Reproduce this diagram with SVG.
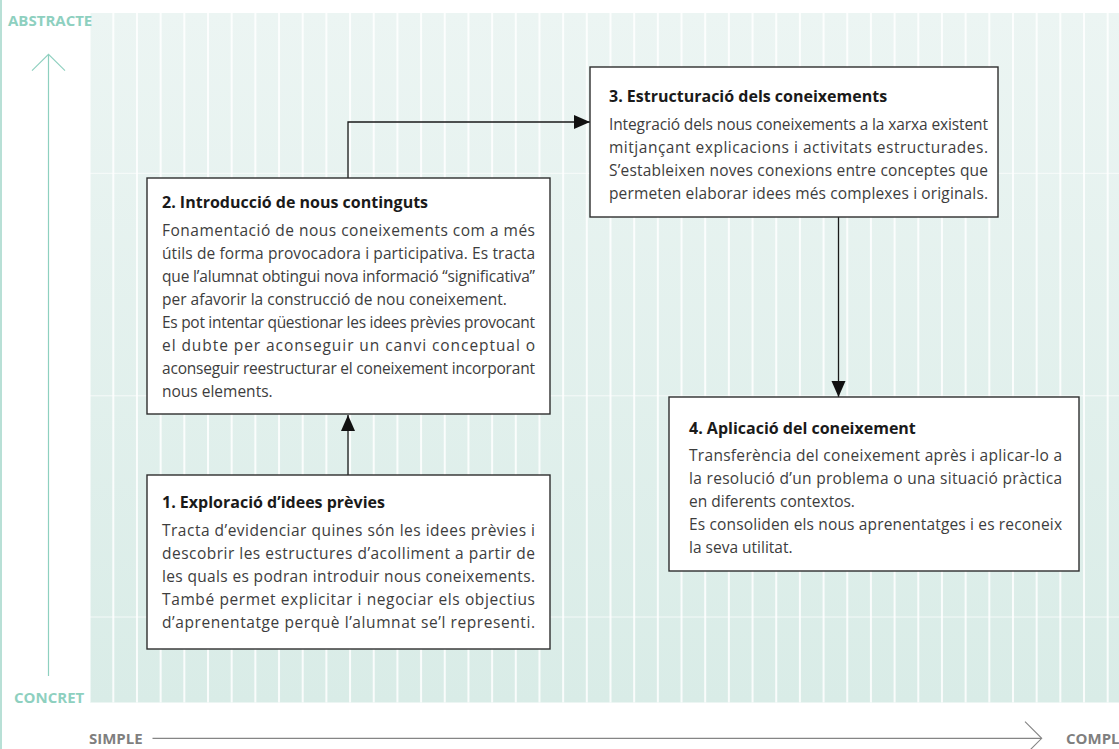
<svg xmlns="http://www.w3.org/2000/svg" width="1119" height="749" viewBox="0 0 1119 749">
<defs>
<linearGradient id="bg" x1="0" y1="0" x2="0" y2="1">
<stop offset="0" stop-color="#ecf5f3"/>
<stop offset="1" stop-color="#d9ece7"/>
</linearGradient>
<pattern id="cols" x="113.3" y="0" width="23.676" height="749" patternUnits="userSpaceOnUse">
<rect x="-1" y="0" width="2" height="749" fill="#ffffff" fill-opacity="0.85"/>
<rect x="22.676" y="0" width="2" height="749" fill="#ffffff" fill-opacity="0.85"/>
</pattern>
<marker id="ah" markerUnits="userSpaceOnUse" markerWidth="17" markerHeight="15" refX="16" refY="7" orient="auto">
<path d="M0,0 L16,7 L0,14 z" fill="#111"/>
</marker>
</defs>
<style>
.ax{font-family:"Open Sans","Noto Sans",sans-serif;font-weight:bold;font-size:15px}
.teal{fill:#8ed0bf}
.grey{fill:#7f7f7f}
.box{fill:#ffffff;stroke:#2e2e2e;stroke-width:1.4}
.ttl{font-family:"Open Sans","Noto Sans",sans-serif;font-weight:bold;font-size:16px;fill:#1a1a1a}
.txt{font-family:"Open Sans","Noto Sans",sans-serif;font-size:15.5px;fill:#3d3d3d}
.con{fill:none;stroke:#1a1a1a;stroke-width:1.3}
</style>
<rect x="0" y="0" width="1119" height="749" fill="#ffffff"/>
<line x1="1" y1="0" x2="1" y2="749" stroke="#b8e0d6" stroke-width="2"/>
<g id="background">
<rect x="90" y="13" width="1029" height="689.5" fill="url(#bg)"/>
<rect x="90" y="13" width="1029" height="689.5" fill="url(#cols)"/>
<line x1="90" y1="173.3" x2="1119" y2="173.3" stroke="#ffffff" stroke-opacity="0.7" stroke-width="1"/>
<line x1="90" y1="395.8" x2="1119" y2="395.8" stroke="#ffffff" stroke-opacity="0.7" stroke-width="1"/>
<line x1="90" y1="617" x2="1119" y2="617" stroke="#ffffff" stroke-opacity="0.7" stroke-width="1"/>
</g>
<g id="axes">
<text class="ax teal" x="8" y="25.5">ABSTRACTE</text>
<text class="ax teal" x="14" y="702.5">CONCRET</text>
<line x1="48.5" y1="55" x2="48.5" y2="676" stroke="#8ed0bf" stroke-width="1.2"/>
<polyline points="32,70.7 48.5,54.3 65,70.7" fill="none" stroke="#8ed0bf" stroke-width="1.1"/>
<text class="ax grey" x="89" y="743.5">SIMPLE</text>
<text class="ax grey" x="1066" y="743.5">COMPL</text>
<line x1="152.5" y1="738.3" x2="1041" y2="738.3" stroke="#858585" stroke-width="1.2"/>
<polyline points="1025,721.7 1041.7,738.3 1025,755" fill="none" stroke="#858585" stroke-width="1.1"/>
</g>
<g id="connectors">
<line class="con" x1="348" y1="475" x2="348" y2="415" marker-end="url(#ah)"/>
<polyline class="con" points="348,178 348,122 590,122" marker-end="url(#ah)"/>
<line class="con" x1="838.5" y1="217" x2="838.5" y2="397" marker-end="url(#ah)"/>
</g>
<g id="node1">
<rect class="box" x="147" y="475" width="403" height="174"/>
<text class="ttl" x="162" y="507.5">1. Exploració d’idees prèvies</text>
<text class="txt" x="162" y="536" textLength="373" lengthAdjust="spacing">Tracta d’evidenciar quines són les idees prèvies i</text>
<text class="txt" x="162" y="559" textLength="373" lengthAdjust="spacing">descobrir les estructures d’acolliment a partir de</text>
<text class="txt" x="162" y="582" textLength="373" lengthAdjust="spacing">les quals es podran introduir nous coneixements.</text>
<text class="txt" x="162" y="605" textLength="373" lengthAdjust="spacing">També permet explicitar i negociar els objectius</text>
<text class="txt" x="162" y="628" textLength="373" lengthAdjust="spacing">d’aprenentatge perquè l’alumnat se’l representi.</text>
</g>
<g id="node2">
<rect class="box" x="147" y="178" width="403" height="236"/>
<text class="ttl" x="162" y="208">2. Introducció de nous continguts</text>
<text class="txt" x="162" y="236" textLength="373" lengthAdjust="spacing">Fonamentació de nous coneixements com a més</text>
<text class="txt" x="162" y="259" textLength="373" lengthAdjust="spacing">útils de forma provocadora i participativa. Es tracta</text>
<text class="txt" x="162" y="282" textLength="373" lengthAdjust="spacing">que l’alumnat obtingui nova informació “significativa”</text>
<text class="txt" x="162" y="305">per afavorir la construcció de nou coneixement.</text>
<text class="txt" x="162" y="328" textLength="373" lengthAdjust="spacing">Es pot intentar qüestionar les idees prèvies provocant</text>
<text class="txt" x="162" y="351" textLength="373" lengthAdjust="spacing">el dubte per aconseguir un canvi conceptual o</text>
<text class="txt" x="162" y="374" textLength="373" lengthAdjust="spacing">aconseguir reestructurar el coneixement incorporant</text>
<text class="txt" x="162" y="397">nous elements.</text>
</g>
<g id="node3">
<rect class="box" x="590" y="67" width="408" height="150"/>
<text class="ttl" x="609" y="102">3. Estructuració dels coneixements</text>
<text class="txt" x="609" y="130" textLength="379" lengthAdjust="spacing">Integració dels nous coneixements a la xarxa existent</text>
<text class="txt" x="609" y="153" textLength="379" lengthAdjust="spacing">mitjançant explicacions i activitats estructurades.</text>
<text class="txt" x="609" y="176" textLength="379" lengthAdjust="spacing">S’estableixen noves conexions entre conceptes que</text>
<text class="txt" x="609" y="198.5" textLength="379" lengthAdjust="spacing">permeten elaborar idees més complexes i originals.</text>
</g>
<g id="node4">
<rect class="box" x="669" y="397" width="410" height="174"/>
<text class="ttl" x="689" y="434">4. Aplicació del coneixement</text>
<text class="txt" x="689" y="461" textLength="373" lengthAdjust="spacing">Transferència del coneixement après i aplicar-lo a</text>
<text class="txt" x="689" y="484" textLength="373" lengthAdjust="spacing">la resolució d’un problema o una situació pràctica</text>
<text class="txt" x="689" y="507">en diferents contextos.</text>
<text class="txt" x="689" y="530" textLength="373" lengthAdjust="spacing">Es consoliden els nous aprenentatges i es reconeix</text>
<text class="txt" x="689" y="552.5">la seva utilitat.</text>
</g>
</svg>
